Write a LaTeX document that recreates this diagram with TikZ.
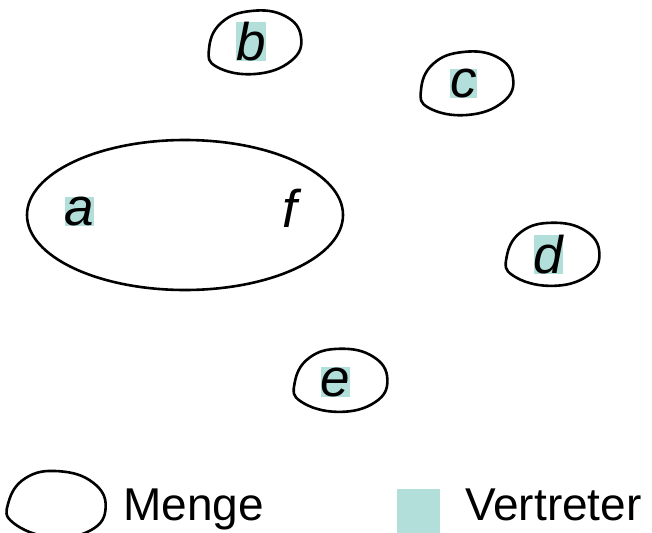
\documentclass[tikz,border=0pt]{standalone}
\usepackage{fontspec}
\setmainfont{Liberation Sans}
\definecolor{vertreter}{RGB}{178,223,218}
\tikzset{
  linie/.style={line width=2.6pt},
  % eine Menge als unregelmaessige Blase
  menge/.pic={\draw[linie] plot[smooth cycle, tension=0.75] coordinates
    {(-46,6) (-34,-20) (-4,-32) (30,-27) (46,-6) (36,18) (0,31) (-38,24)};},
  element/.style={inner sep=0pt, font=\fontsize{53}{60}\selectfont\itshape},
  vertr/.style={element, fill=vertreter},
  legende/.style={inner sep=0pt, anchor=base west, font=\fontsize{46}{52}\selectfont},
}
\begin{document}
\begin{tikzpicture}[x=1pt, y=-1pt]
  \useasboundingbox (0,0) rectangle (652,532);

  % Mengen
  \pic (mb) at (255,43) {menge};
  \pic (mc) at (467,84) {menge};
  \pic[rotate=-5] (md) at (553,255) {menge};
  \pic[rotate=-5] (me) at (341,381) {menge};
  \draw[linie] (185,215) ellipse [x radius=158pt, y radius=75pt];

  % Elemente, Vertreter hinterlegt
  \node[vertr] (b) at (251,41.5) {b};
  \node[vertr] (c) at (463.5,83.5) {c};
  \node[vertr] (a) at (79.5,211.5) {a};
  \node[element, anchor=base west] (f) at (282,227) {f};
  \node[vertr] (d) at (548.5,254.5) {d};
  \node[vertr] (e) at (335.5,382) {e};

  % Legende
  \pic[rotate=-10, scale=1.05] (ml) at (57,505) {menge};
  \node[legende] (menge) at (123,520) {Menge};
  \node[fill=vertreter, inner sep=0pt, minimum width=43pt, minimum height=44pt,
        anchor=north west] (quadrat) at (397,489) {};
  \node[legende] (vertr) at (465,520) {Vertreter};
\end{tikzpicture}
\end{document}
